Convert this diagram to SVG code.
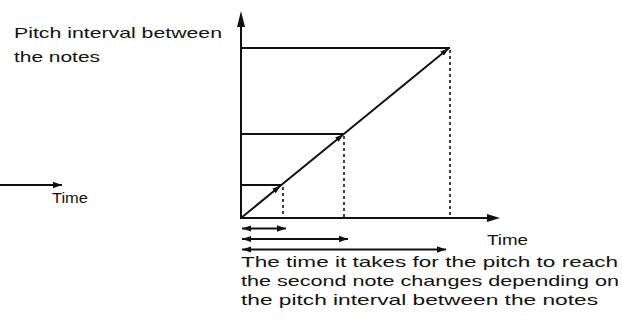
<svg xmlns="http://www.w3.org/2000/svg" width="622" height="325" viewBox="0 0 622 325">
<style>
.t{font-family:"Liberation Sans",Arial,sans-serif;font-size:15px;fill:#111}
.ax{stroke:#111;stroke-width:2;fill:none}
.ln{stroke:#111;stroke-width:2;fill:none}
.dot{stroke:#111;stroke-width:1.6;fill:none;stroke-dasharray:3 3}
.sa{stroke:#111;stroke-width:1.8;fill:none}
</style>
<defs>
<marker id="ah" markerWidth="10" markerHeight="8" refX="9" refY="4" orient="auto" markerUnits="userSpaceOnUse">
<path d="M0,0.8 L9,4 L0,7.2 Z" fill="#111"/>
</marker>
<marker id="as" markerWidth="10" markerHeight="8" refX="1" refY="4" orient="auto" markerUnits="userSpaceOnUse">
<path d="M10,1 L1,4 L10,7 Z" fill="#111"/>
</marker>
<marker id="am" markerWidth="10" markerHeight="8" refX="9" refY="4" orient="auto" markerUnits="userSpaceOnUse">
<path d="M0,1.2 L9,4 L0,6.8 Z" fill="#111"/>
</marker>
</defs>
<g id="connectors">
<path class="ax" d="M241,219 L241,26"/>
<polygon points="241,11 237,27 245,27" fill="#111"/>
<path class="ax" d="M240,218 L488,218"/>
<polygon points="500,218 487,214 487,222" fill="#111"/>
<path class="ln" d="M241,48 L450,48"/>
<path class="ln" d="M241,134 L344,134"/>
<path class="ln" d="M241,185 L282,185"/>
<path class="dot" d="M283,187 L283,218"/>
<path class="dot" d="M344,136 L344,218"/>
<path class="dot" d="M450,50 L450,218"/>
<path class="ln" d="M241,218 L281,185.3 L343.8,134 L449,48" marker-mid="url(#am)" marker-end="url(#am)"/>
<path class="sa" d="M242,228.5 L286,228.5" marker-start="url(#as)" marker-end="url(#ah)"/>
<path class="sa" d="M242,239 L348,239" marker-start="url(#as)" marker-end="url(#ah)"/>
<path class="sa" d="M242,249.5 L446,249.5" marker-start="url(#as)" marker-end="url(#ah)"/>
<path class="sa" d="M0,185 L62,185" marker-end="url(#ah)"/>
</g>
<g id="ylabel">
<text class="t" x="14" y="38" textLength="208" lengthAdjust="spacingAndGlyphs">Pitch interval between</text>
<text class="t" x="14" y="62" textLength="86" lengthAdjust="spacingAndGlyphs">the notes</text>
</g>
<g id="xlabel-left">
<text class="t" x="52" y="203" textLength="36" lengthAdjust="spacingAndGlyphs">Time</text>
</g>
<g id="xlabel">
<text class="t" x="487" y="245" textLength="41" lengthAdjust="spacingAndGlyphs">Time</text>
</g>
<g id="caption">
<text class="t" x="241" y="267" textLength="377" lengthAdjust="spacingAndGlyphs">The time it takes for the pitch to reach</text>
<text class="t" x="241" y="286" textLength="378" lengthAdjust="spacingAndGlyphs">the second note changes depending on</text>
<text class="t" x="241" y="305" textLength="357" lengthAdjust="spacingAndGlyphs">the pitch interval between the notes</text>
</g>
</svg>
